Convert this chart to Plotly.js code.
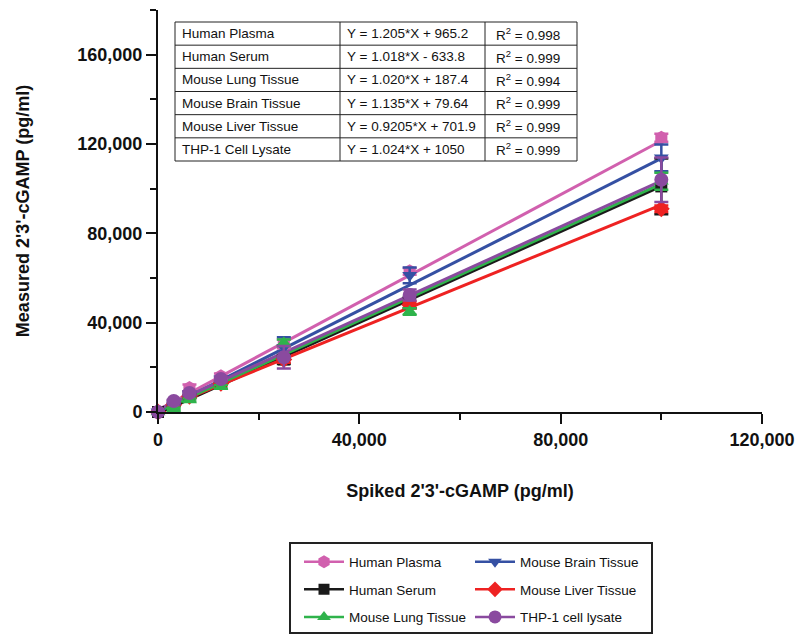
<!DOCTYPE html>
<html>
<head>
<meta charset="utf-8">
<script src="https://cdn.plot.ly/plotly-3.0.1.min.js"></script>
<style>html,body{margin:0;padding:0;background:#fff;}#chart{width:803px;height:638px;}</style>
</head>
<body>
<div id="chart"></div>
<script>
// ---- data ----
const spiked = [0, 3125, 6250, 12500, 25000, 50000, 100000];

const plasmaY   = [200, 4500, 10800, 16000, 30500, 63000, 122800];
const plasmaErr = [300, 800, 1500, 1200, 2000, 1500, 1800];
const serumY    = [0, 3200, 7000, 13000, 23500, 49000, 101000];
const serumErr  = [200, 500, 700, 800, 2000, 2500, 12500];
const lungY     = [0, 1500, 5400, 11300, 31000, 45000, 103300];
const lungErr   = [200, 500, 700, 800, 1500, 1500, 3800];
const brainY    = [100, 4000, 8200, 14800, 29000, 61200, 113800];
const brainErr  = [200, 500, 800, 1000, 4500, 3500, 6000];
const liverY    = [0, 3300, 7000, 12800, 23500, 48000, 91000];
const liverErr  = [200, 400, 600, 800, 1500, 1500, 1500];
const thpY      = [0, 4900, 8500, 14800, 24500, 52400, 104000];
const thpErr    = [300, 600, 800, 1000, 5000, 2500, 10000];

const seriesNames = ["Human Plasma", "Human Serum", "Mouse Lung Tissue", "Mouse Brain Tissue", "Mouse Liver Tissue", "THP-1 cell lysate"];

// linear regression fits (from the table): slope, intercept, plotted over the spiked range
const fitSlopes     = [1.205, 1.018, 1.020, 1.135, 0.9205, 1.024];
const fitIntercepts = [965.2, -633.8, 187.4, 79.64, 701.9, 1050];
const fitRange      = [0, 100000];

const tableNames = ["Human Plasma", "Human Serum", "Mouse Lung Tissue", "Mouse Brain Tissue", "Mouse Liver Tissue", "THP-1 Cell Lysate"];
const tableEquations = ["Y = 1.205*X + 965.2", "Y = 1.018*X - 633.8", "Y = 1.020*X + 187.4", "Y = 1.135*X + 79.64", "Y = 0.9205*X + 701.9", "Y = 1.024*X + 1050"];
const tableR2 = ["0.998", "0.999", "0.994", "0.999", "0.999", "0.999"];

const xTitle = "Spiked 2'3'-cGAMP (pg/ml)";
const yTitle = "Measured 2'3'-cGAMP (pg/ml)";

// ---- layout geometry (pixels) ----
const W = 803, H = 638;
const M = {l: 158, r: 41, t: 10, b: 226, autoexpand: false};
const PW = W - M.l - M.r, PH = H - M.t - M.b;
const px = v => (v - M.l) / PW;          // page x -> paper
const py = v => (H - M.b - v) / PH;      // page y -> paper

const FONT = "Arial, 'Liberation Sans', Helvetica, sans-serif";

const series = [
  // draw order: index into the arrays above
  {i: 1, y: serumY,  err: serumErr,  color: '#1a1a1a', symbol: 'square',        size: 12, legend: 'legend',  rank: 2},
  {i: 4, y: liverY,  err: liverErr,  color: '#ee2222', symbol: 'diamond',       size: 13, legend: 'legend2', rank: 2},
  {i: 0, y: plasmaY, err: plasmaErr, color: '#d160ae', symbol: 'hexagon',       size: 14, legend: 'legend',  rank: 1},
  {i: 3, y: brainY,  err: brainErr,  color: '#3550a3', symbol: 'triangle-down', size: 13, legend: 'legend2', rank: 1},
  {i: 2, y: lungY,   err: lungErr,   color: '#2fb34b', symbol: 'triangle-up',   size: 13, legend: 'legend',  rank: 3},
  {i: 5, y: thpY,    err: thpErr,    color: '#8a4a9f', symbol: 'circle',        size: 14, legend: 'legend2', rank: 3}
];

const traces = [];
// fit lines first (underneath the markers)
series.forEach(s => {
  traces.push({
    type: 'scatter', mode: 'lines', showlegend: false, hoverinfo: 'skip',
    x: fitRange, y: fitRange.map(x => fitSlopes[s.i] * x + fitIntercepts[s.i]),
    line: {color: s.color, width: 3}, cliponaxis: false
  });
});
// measured points with error bars
series.forEach(s => {
  traces.push({
    type: 'scatter', mode: 'markers', showlegend: false, name: seriesNames[s.i],
    x: spiked, y: s.y,
    error_y: {type: 'data', array: s.err, visible: true, color: s.color, thickness: 2.5, width: 7},
    marker: {color: s.color, symbol: s.symbol, size: s.size},
    cliponaxis: false
  });
});
// legend entries (line + marker)
series.forEach(s => {
  traces.push({
    type: 'scatter', mode: 'lines+markers', name: seriesNames[s.i],
    x: [null], y: [null],
    line: {color: s.color, width: 2.5},
    marker: {color: s.color, symbol: s.symbol, size: s.size - 1},
    legend: s.legend, legendrank: s.rank, legendgroup: seriesNames[s.i]
  });
});

// ---- regression table (shapes + annotations) ----
const tL = 175, tC1 = 340, tC2 = 485, tR = 577, tT = 22, tB = 161;
const rowH = (tB - tT) / tableNames.length;
const shapes = [];
const annotations = [];
const lineStyle = {color: '#222', width: 1};
shapes.push({type: 'rect', xref: 'paper', yref: 'paper', x0: px(tL), x1: px(tR), y0: py(tT), y1: py(tB), line: lineStyle, fillcolor: 'rgba(255,255,255,0)'});
[tC1, tC2].forEach(c => shapes.push({type: 'line', xref: 'paper', yref: 'paper', x0: px(c), x1: px(c), y0: py(tT), y1: py(tB), line: lineStyle}));
for (let i = 1; i < tableNames.length; i++) {
  const yy = tT + i * rowH;
  shapes.push({type: 'line', xref: 'paper', yref: 'paper', x0: px(tL), x1: px(tR), y0: py(yy), y1: py(yy), line: lineStyle});
}
const cellFont = {family: FONT, size: 13.5, color: '#111'};
for (let i = 0; i < tableNames.length; i++) {
  const yc = py(tT + (i + 0.5) * rowH);
  annotations.push({xref: 'paper', yref: 'paper', x: px(tL + 5), y: yc, xanchor: 'left', yanchor: 'middle', text: tableNames[i], showarrow: false, font: cellFont});
  annotations.push({xref: 'paper', yref: 'paper', x: px(tC1 + 5), y: yc, xanchor: 'left', yanchor: 'middle', text: tableEquations[i], showarrow: false, font: cellFont});
  annotations.push({xref: 'paper', yref: 'paper', x: px(tC2 + 9), y: yc, xanchor: 'left', yanchor: 'middle', text: 'R<sup>2</sup> = ' + tableR2[i], showarrow: false, font: cellFont});
}

// legend box
shapes.push({type: 'rect', xref: 'paper', yref: 'paper', x0: px(290), x1: px(652), y0: py(543), y1: py(633), line: {color: '#222', width: 2}});

const axisCommon = {
  showline: true, linecolor: '#111', linewidth: 2,
  ticks: 'outside', ticklen: 10, tickwidth: 2, tickcolor: '#111',
  showgrid: false, zeroline: false, automargin: false,
  tickfont: {family: FONT, size: 18, color: '#111', weight: 'bold'},
  tickformat: ',d', dtick: 40000, tick0: 0,
  minor: {ticks: 'outside', ticklen: 6, tickwidth: 2, tickcolor: '#111', dtick: 20000, showgrid: false},
  fixedrange: true
};

const legendCommon = {
  orientation: 'v', xanchor: 'left', yanchor: 'top',
  bgcolor: 'rgba(0,0,0,0)', borderwidth: 0,
  font: {family: FONT, size: 13.5, color: '#111'},
  tracegroupgap: 7, traceorder: 'grouped', itemwidth: 40
};

const layout = {
  width: W, height: H,
  margin: M,
  paper_bgcolor: '#fff', plot_bgcolor: '#fff',
  showlegend: true,
  xaxis: Object.assign({}, axisCommon, {
    range: [0, 120000],
    title: {text: xTitle, font: {family: FONT, size: 18, color: '#111', weight: 'bold'}, standoff: 36}
  }),
  yaxis: Object.assign({}, axisCommon, {
    range: [0, 180000],
    title: {text: yTitle, font: {family: FONT, size: 18, color: '#111', weight: 'bold'}, standoff: 43}
  }),
  legend: Object.assign({}, legendCommon, {x: px(299), y: py(546.5)}),
  legend2: Object.assign({}, legendCommon, {x: px(470), y: py(546.5)}),
  shapes: shapes,
  annotations: annotations
};

Plotly.newPlot('chart', traces, layout, {displayModeBar: false, staticPlot: true});
</script>
</body>
</html>
